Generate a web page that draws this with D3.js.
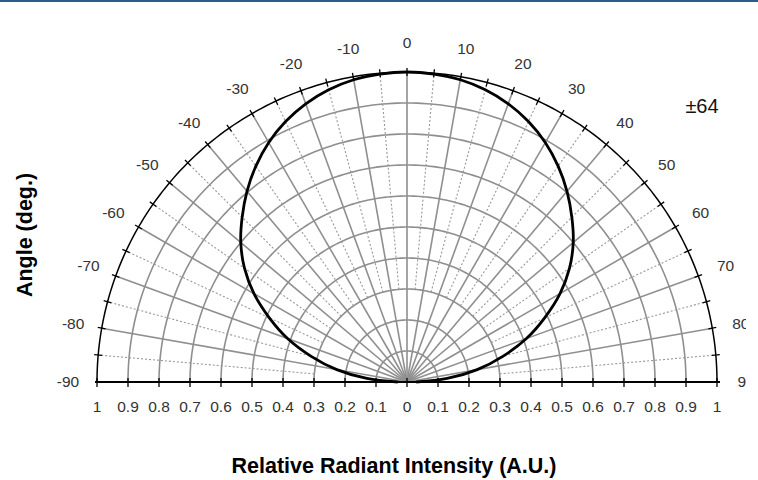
<!DOCTYPE html>
<html>
<head>
<meta charset="utf-8">
<script src="https://cdn.jsdelivr.net/npm/d3@7"></script>
<style>
  body { margin: 0; background: #fff; }
  svg { display: block; font-family: "Liberation Sans", Arial, sans-serif; }
</style>
</head>
<body>
<svg id="chart"></svg>
<script>
// angles in degrees, 0 = straight up
const angles = [-90, -85, -80, -75, -70, -65, -60, -55, -50, -45, -40, -35, -30, -25, -20, -15, -10, -5,
  0, 5, 10, 15, 20, 25, 30, 35, 40, 45, 50, 55, 60, 65, 70, 75, 80, 85, 90];
const intensity = [0.03, 0.13, 0.23, 0.32, 0.41, 0.49, 0.57, 0.64, 0.70, 0.752, 0.803, 0.85, 0.892, 0.927, 0.955, 0.976, 0.99, 0.997,
  1.0, 0.997, 0.99, 0.976, 0.955, 0.927, 0.892, 0.85, 0.803, 0.752, 0.70, 0.64, 0.57, 0.49, 0.41, 0.32, 0.23, 0.13, 0.03];
const angleLabels = [-90, -80, -70, -60, -50, -40, -30, -20, -10, 0, 10, 20, 30, 40, 50, 60, 70, 80, 90];
const ringValues = [0.1, 0.2, 0.3, 0.4, 0.5, 0.6, 0.7, 0.8, 0.9];
const xTicks = [-1, -0.9, -0.8, -0.7, -0.6, -0.5, -0.4, -0.3, -0.2, -0.1, 0, 0.1, 0.2, 0.3, 0.4, 0.5, 0.6, 0.7, 0.8, 0.9, 1];
const halfAngleLabel = "±64";

const W = 758, H = 480;
const cx = 407, cy = 382, R = 310;

const svg = d3.select("#chart").attr("width", W).attr("height", H);

const r = d3.scaleLinear().domain([0, 1]).range([0, R]);
const x = d3.scaleLinear().domain([-1, 1]).range([cx - R, cx + R]);
const rad = d => d * Math.PI / 180;

// top border
svg.append("rect").attr("x", 0).attr("y", 0).attr("width", W).attr("height", 2).attr("fill", "#2d5c8a");

const g = svg.append("g").attr("transform", `translate(${cx},${cy})`);

// rings
const arc = v => d3.lineRadial().angle(a => rad(a)).radius(() => r(v))(d3.range(-90, 90.5, 1));
g.selectAll("path.ring")
  .data(ringValues)
  .enter()
  .append("path")
  .attr("d", d => arc(d))
  .attr("fill", "none")
  .attr("stroke", "#8f8f8f")
  .style("stroke-width", "1.6px");

// spokes every 10 (solid) and every 5 (dotted)
const spokeAngles = d3.range(-85, 86, 5);
g.selectAll("line.spoke")
  .data(spokeAngles)
  .enter()
  .append("line")
  .attr("x1", d => (d % 10 === 0 ? 0 : r(0.3)) * Math.sin(rad(d)))
  .attr("y1", d => -(d % 10 === 0 ? 0 : r(0.3)) * Math.cos(rad(d)))
  .attr("x2", d => r(1) * Math.sin(rad(d)))
  .attr("y2", d => -r(1) * Math.cos(rad(d)))
  .attr("stroke", d => d % 10 === 0 ? "#8f8f8f" : "#999")
  .attr("stroke-dasharray", d => d % 10 === 0 ? null : "2,2")
  .style("stroke-width", d => d % 10 === 0 ? "1.6px" : "1.1px");

// outer circle
g.append("path")
  .attr("d", arc(1))
  .attr("fill", "none")
  .attr("stroke", "#000")
  .style("stroke-width", "1.5px");

// ticks on outer circle
g.selectAll("line.otick")
  .data(d3.range(-85, 86, 5))
  .enter()
  .append("line")
  .attr("x1", d => (R - 4) * Math.sin(rad(d)))
  .attr("y1", d => -(R - 4) * Math.cos(rad(d)))
  .attr("x2", d => (R + 4) * Math.sin(rad(d)))
  .attr("y2", d => -(R + 4) * Math.cos(rad(d)))
  .attr("stroke", "#000")
  .style("stroke-width", "1.3px");

// horizontal axis
svg.append("line")
  .attr("x1", x(-1) - 2).attr("x2", x(1) + 3)
  .attr("y1", cy).attr("y2", cy)
  .attr("stroke", "#000").style("stroke-width", "2px");

svg.selectAll("line.xtick")
  .data(xTicks)
  .enter()
  .append("line")
  .attr("x1", d => x(d)).attr("x2", d => x(d))
  .attr("y1", cy - 4).attr("y2", cy + 5)
  .attr("stroke", "#000").style("stroke-width", "1.3px");

svg.selectAll("text.xlab")
  .data(xTicks)
  .enter()
  .append("text")
  .text(d => String(+Math.abs(d).toFixed(1)))
  .attr("x", d => x(d))
  .attr("y", cy + 30)
  .attr("text-anchor", "middle")
  .attr("fill", "#333")
  .style("font-size", "15.5px");

// curve
g.append("path")
  .datum(angles.map((a, i) => [a, intensity[i]]))
  .attr("d", d3.lineRadial().angle(d => rad(d[0])).radius(d => r(d[1])).curve(d3.curveCatmullRom))
  .attr("fill", "none")
  .attr("stroke", "#000")
  .style("stroke-width", "2.8px");

// angle labels
svg.append("clipPath").attr("id", "clip").append("rect").attr("x", 0).attr("y", 0).attr("width", 746).attr("height", H);
g.append("g")
  .attr("clip-path", "url(#clip)")
  .attr("transform", `translate(${-cx},${-cy})`)
  .selectAll("text")
  .data(angleLabels)
  .enter()
  .append("text")
  .text(d => d)
  .attr("x", d => cx + 339 * Math.sin(rad(d)))
  .attr("y", d => cy - 339 * Math.cos(rad(d)))
  .attr("dy", "0.35em")
  .attr("text-anchor", "middle")
  .attr("fill", "#333")
  .style("font-size", "15.5px");

// half angle
svg.append("text")
  .text(halfAngleLabel)
  .attr("x", 702).attr("y", 105.5).attr("dy", "0.35em")
  .attr("text-anchor", "middle")
  .attr("fill", "#111")
  .style("font-size", "20px");

// titles
svg.append("text")
  .text("Relative Radiant Intensity (A.U.)")
  .attr("x", 394).attr("y", 473)
  .attr("text-anchor", "middle")
  .style("font-weight", "bold")
  .style("font-size", "21.5px");

svg.append("text")
  .text("Angle (deg.)")
  .attr("transform", "translate(32,235) rotate(-90)")
  .attr("text-anchor", "middle")
  .style("font-weight", "bold")
  .style("font-size", "21.5px");
</script>
</body>
</html>
